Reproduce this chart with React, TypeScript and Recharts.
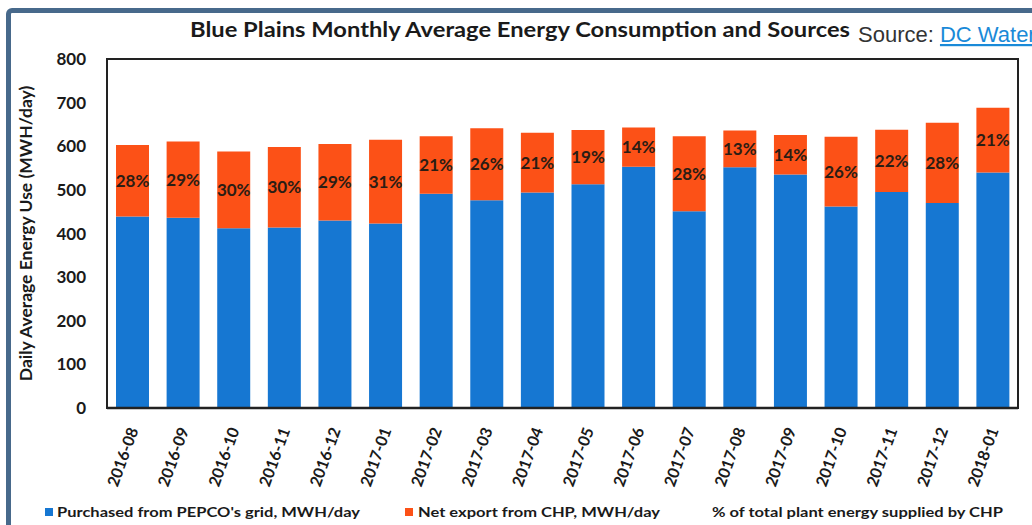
import { BarChart, Bar, XAxis, YAxis, LabelList, ReferenceArea } from 'recharts';

const months = [
  '2016-08', '2016-09', '2016-10', '2016-11', '2016-12', '2017-01',
  '2017-02', '2017-03', '2017-04', '2017-05', '2017-06', '2017-07',
  '2017-08', '2017-09', '2017-10', '2017-11', '2017-12', '2018-01',
];
const gridPurchased = [439, 436, 412, 414, 430, 423, 491, 476, 494, 513, 553, 451, 552, 535, 462, 495, 470, 540];
const chpExport = [164, 175, 176, 184, 175, 192, 132, 165, 137, 124, 90, 172, 84, 91, 160, 143, 184, 148];
const chpShare = [28, 29, 30, 30, 29, 31, 21, 26, 21, 19, 14, 28, 13, 14, 26, 22, 28, 21];
const yTicks = [0, 100, 200, 300, 400, 500, 600, 700, 800];

const data = months.map((month, i) => ({
  month,
  grid: gridPurchased[i],
  chp: chpExport[i],
  share: `${chpShare[i]}%`,
}));

const BLUE = '#1677d2';
const ORANGE = '#fc5117';
const FONT = 'Lato, "Open Sans", sans-serif';

const MonthTick = (props: any) => {
  const { x, y, payload } = props;
  return (
    <text
      x={x + 1}
      y={y + 12}
      dy="0.35em"
      textAnchor="end"
      transform={`rotate(-70, ${x + 1}, ${y + 12})`}
      fontFamily={FONT}
      fontWeight={700}
      fontSize={16}
      fill="#1a1a1a"
    >
      {payload.value}
    </text>
  );
};

export default function App() {
  return (
    <div
      style={{
        position: 'absolute',
        left: 0,
        top: 0,
        width: 1032,
        height: 525,
        overflow: 'hidden',
        background: '#fff',
      }}
    >
      <div
        style={{
          position: 'absolute',
          left: 6,
          top: 8,
          width: 1100,
          height: 600,
          border: '5px solid #47698b',
          borderRadius: 6,
        }}
      />
      <BarChart
        width={1032}
        height={525}
        data={data}
        margin={{ top: 59, right: 14, bottom: 42, left: 20 }}
        barSize={33}
        style={{ position: 'absolute', left: 0, top: 0 }}
      >
        <XAxis
          dataKey="month"
          height={75}
          interval={0}
          tick={<MonthTick />}
          tickLine={false}
          axisLine={{ stroke: '#222', strokeWidth: 2.5 }}
        />
        <YAxis
          domain={[0, 800]}
          ticks={yTicks}
          width={87}
          tickSize={0}
          tickMargin={21}
          tick={{ fontFamily: FONT, fontWeight: 700, fontSize: 17, fill: '#1a1a1a' }}
          axisLine={{ stroke: '#222', strokeWidth: 2 }}
          label={{
            value: 'Daily Average Energy Use (MWH/day)',
            angle: -90,
            position: 'insideLeft',
            offset: 6,
            textAnchor: 'middle',
            style: { fontFamily: FONT, fontWeight: 700, fontSize: 17.5, fill: '#1a1a1a', textAnchor: 'middle' },
          }}
        />
        <ReferenceArea y1={0} y2={800} fill="none" stroke="#222" strokeWidth={2} ifOverflow="visible" />
        <Bar dataKey="grid" stackId="a" fill={BLUE} isAnimationActive={false} />
        <Bar dataKey="chp" stackId="a" fill={ORANGE} isAnimationActive={false}>
          <LabelList
            dataKey="share"
            position="center"
            fill="#2b1d14"
            fontFamily={FONT}
            fontWeight={700}
            fontSize={17}
          />
        </Bar>
      </BarChart>
      <svg
        width={1032}
        height={525}
        style={{ position: 'absolute', left: 0, top: 0, pointerEvents: 'none' }}
      >
        <text
          x={190}
          y={37}
          textLength={660}
          lengthAdjust="spacingAndGlyphs"
          fontFamily={FONT}
          fontWeight={700}
          fontSize={20}
          fill="#1a1a1a"
        >
          Blue Plains Monthly Average Energy Consumption and Sources
        </text>
        <text x={858} y={42} fontFamily='"Liberation Sans", Arial, sans-serif' fontSize={22} fill="#333">
          Source:{' '}
          <tspan fill="#1a8ad8" textDecoration="underline">
            DC Water
          </tspan>
        </text>
        <rect x={45} y={508} width={8} height={8} fill={BLUE} />
        <text x={57} y={517} textLength={303} lengthAdjust="spacingAndGlyphs" fontFamily={FONT} fontWeight={700} fontSize={14} fill="#1a1a1a">
          Purchased from PEPCO's grid, MWH/day
        </text>
        <rect x={405} y={508} width={8} height={8} fill={ORANGE} />
        <text x={418} y={517} textLength={242} lengthAdjust="spacingAndGlyphs" fontFamily={FONT} fontWeight={700} fontSize={14} fill="#1a1a1a">
          Net export from CHP, MWH/day
        </text>
        <text x={712} y={517} textLength={291} lengthAdjust="spacingAndGlyphs" fontFamily={FONT} fontWeight={700} fontSize={14} fill="#1a1a1a">
          % of total plant energy supplied by CHP
        </text>
      </svg>
    </div>
  );
}
